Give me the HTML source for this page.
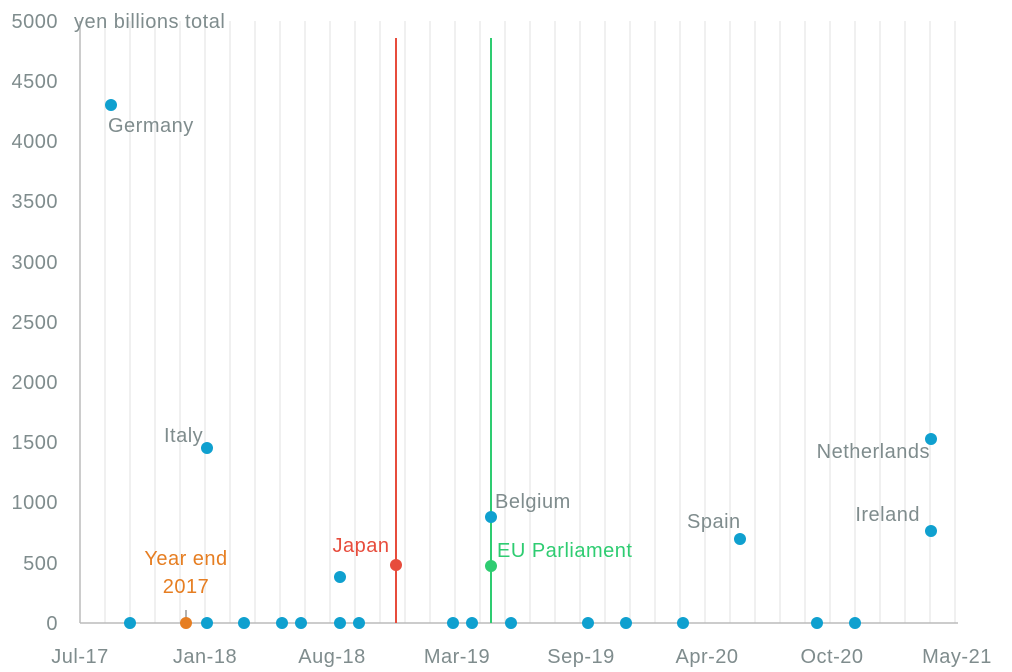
<!DOCTYPE html>
<html><head><meta charset="utf-8"><style>body{margin:0;background:#fff}svg{display:block;font-family:"Liberation Sans",sans-serif}text{letter-spacing:0.5px}</style></head><body>
<svg width="1012" height="672" xmlns="http://www.w3.org/2000/svg">
<g stroke="#ececec" stroke-width="1.5">
<line x1="105" y1="21" x2="105" y2="623"/><line x1="130" y1="21" x2="130" y2="623"/><line x1="155" y1="21" x2="155" y2="623"/><line x1="180" y1="21" x2="180" y2="623"/><line x1="205" y1="21" x2="205" y2="623"/><line x1="230" y1="21" x2="230" y2="623"/><line x1="255" y1="21" x2="255" y2="623"/><line x1="280" y1="21" x2="280" y2="623"/><line x1="305" y1="21" x2="305" y2="623"/><line x1="330" y1="21" x2="330" y2="623"/><line x1="355" y1="21" x2="355" y2="623"/><line x1="380" y1="21" x2="380" y2="623"/><line x1="405" y1="21" x2="405" y2="623"/><line x1="430" y1="21" x2="430" y2="623"/><line x1="455" y1="21" x2="455" y2="623"/><line x1="480" y1="21" x2="480" y2="623"/><line x1="505" y1="21" x2="505" y2="623"/><line x1="530" y1="21" x2="530" y2="623"/><line x1="555" y1="21" x2="555" y2="623"/><line x1="580" y1="21" x2="580" y2="623"/><line x1="605" y1="21" x2="605" y2="623"/><line x1="630" y1="21" x2="630" y2="623"/><line x1="655" y1="21" x2="655" y2="623"/><line x1="680" y1="21" x2="680" y2="623"/><line x1="705" y1="21" x2="705" y2="623"/><line x1="730" y1="21" x2="730" y2="623"/><line x1="755" y1="21" x2="755" y2="623"/><line x1="780" y1="21" x2="780" y2="623"/><line x1="805" y1="21" x2="805" y2="623"/><line x1="830" y1="21" x2="830" y2="623"/><line x1="855" y1="21" x2="855" y2="623"/><line x1="880" y1="21" x2="880" y2="623"/><line x1="905" y1="21" x2="905" y2="623"/><line x1="930" y1="21" x2="930" y2="623"/><line x1="955" y1="21" x2="955" y2="623"/>
</g>
<line x1="80" y1="21" x2="80" y2="623" stroke="#bbb" stroke-width="1.5"/>
<line x1="80" y1="623" x2="958" y2="623" stroke="#bbb" stroke-width="1.5"/>
<g fill="#7f8c8d" font-size="20" text-anchor="end">
<text x="58" y="28">5000</text><text x="58" y="88">4500</text><text x="58" y="148">4000</text><text x="58" y="208">3500</text><text x="58" y="269">3000</text><text x="58" y="329">2500</text><text x="58" y="389">2000</text><text x="58" y="449">1500</text><text x="58" y="509">1000</text><text x="58" y="570">500</text><text x="58" y="630">0</text>
</g>
<text x="74" y="28" fill="#7f8c8d" font-size="20">yen billions total</text>
<g fill="#7f8c8d" font-size="20" text-anchor="middle">
<text x="80" y="663">Jul-17</text><text x="205" y="663">Jan-18</text><text x="332" y="663">Aug-18</text><text x="457" y="663">Mar-19</text><text x="581" y="663">Sep-19</text><text x="707" y="663">Apr-20</text><text x="832" y="663">Oct-20</text><text x="957" y="663">May-21</text>
</g>
<line x1="396" y1="38" x2="396" y2="623" stroke="#e74c3c" stroke-width="2"/>
<line x1="491" y1="38" x2="491" y2="623" stroke="#2ecc71" stroke-width="2"/>
<line x1="186" y1="610" x2="186" y2="620" stroke="#999" stroke-width="1.5"/>
<g fill="#0fa0cf">
<circle cx="111" cy="105" r="6"/><circle cx="207" cy="448" r="6"/><circle cx="340" cy="577" r="6"/><circle cx="491" cy="517" r="6"/><circle cx="740" cy="539" r="6"/><circle cx="931" cy="439" r="6"/><circle cx="931" cy="531" r="6"/>
<circle cx="130" cy="623" r="6"/><circle cx="207" cy="623" r="6"/><circle cx="244" cy="623" r="6"/><circle cx="282" cy="623" r="6"/><circle cx="301" cy="623" r="6"/><circle cx="340" cy="623" r="6"/><circle cx="359" cy="623" r="6"/><circle cx="453" cy="623" r="6"/><circle cx="472" cy="623" r="6"/><circle cx="511" cy="623" r="6"/><circle cx="588" cy="623" r="6"/><circle cx="626" cy="623" r="6"/><circle cx="683" cy="623" r="6"/><circle cx="817" cy="623" r="6"/><circle cx="855" cy="623" r="6"/>
</g>
<circle cx="186" cy="623" r="6" fill="#e67e22"/>
<circle cx="396" cy="565" r="6" fill="#e74c3c"/>
<circle cx="491" cy="566" r="6" fill="#2ecc71"/>
<g font-size="20" fill="#7f8c8d">
<text x="108" y="132">Germany</text>
<text x="164" y="442">Italy</text>
<text x="495" y="508">Belgium</text>
<text x="687" y="528">Spain</text>
<text x="930" y="458" text-anchor="end">Netherlands</text>
<text x="920" y="521" text-anchor="end">Ireland</text>
</g>
<text x="186" y="565" font-size="20" fill="#e67e22" text-anchor="middle">Year end</text>
<text x="186" y="593" font-size="20" fill="#e67e22" text-anchor="middle">2017</text>
<text x="361" y="552" font-size="20" fill="#e74c3c" text-anchor="middle">Japan</text>
<text x="497" y="557" font-size="20" fill="#2ecc71">EU Parliament</text>
</svg>
</body></html>
